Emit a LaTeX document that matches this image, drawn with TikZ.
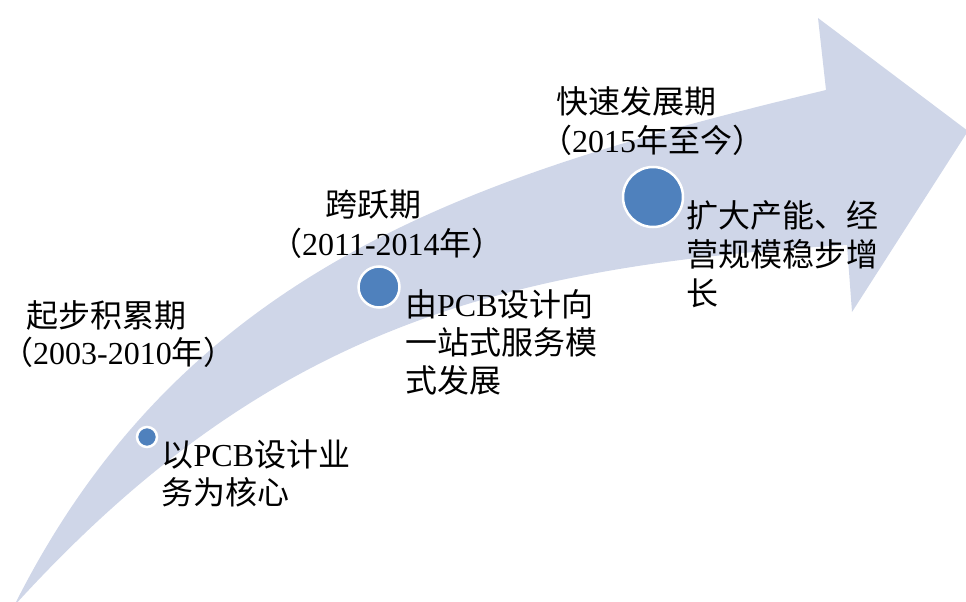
\documentclass[tikz,border=0pt]{standalone}
\usepackage{fontspec}
\setmainfont{Liberation Serif}
\newfontfamily\cjk{Noto Sans CJK SC}
\definecolor{bandcol}{RGB}{207,214,232}
\definecolor{dotcol}{RGB}{79,129,189}
\begin{document}
\begin{tikzpicture}[x=1pt,y=-1pt,
  txt/.style={inner sep=0pt, anchor=west, text=black, font=\fontsize{32}{38}\selectfont, align=left},
  dotnode/.style={circle, fill=dotcol, draw=white, line width=2.5pt, inner sep=0pt}]
\useasboundingbox (0,0) rectangle (966,602);
\begin{scope}
\clip (0,0) rectangle (966,602);
\fill[bandcol] (14,606) .. controls (184,266) and (476,174) .. (826,90)
  -- (818,18) -- (968,131) -- (852,312) -- (847,245)
  .. controls (497,266) and (264,331) .. (14,606) -- cycle;
\end{scope}
\node[dotnode, minimum size=20] (c1) at (147,437) {};
\node[dotnode, minimum size=41] (c2) at (379,287) {};
\node[dotnode, minimum size=60] (c3) at (653,197) {};
\node[txt] (t1) at (26,315) {\cjk 起步积累期};
\node[txt] (y1) at (1,352) {{\cjk （}2003-2010{\cjk 年）}};
\node[txt] (d1) at (161.5,473.5) {{\cjk 以}PCB{\cjk 设计业}\\{\cjk 务为核心}};
\node[txt] (t2) at (325,205) {\cjk 跨跃期};
\node[txt] (y2) at (270,243) {{\cjk （}2011-2014{\cjk 年）}};
\node[txt] (d2) at (405,342.5) {{\cjk 由}PCB{\cjk 设计向}\\{\cjk 一站式服务模}\\{\cjk 式发展}};
\node[txt] (t3) at (556,101) {\cjk 快速发展期};
\node[txt] (y3) at (540,140) {{\cjk （}2015{\cjk 年至今）}};
\node[txt, font=\fontsize{32}{39}\selectfont] (d3) at (686,254) {{\cjk 扩大产能、经}\\{\cjk 营规模稳步增}\\{\cjk 长}};
\end{tikzpicture}
\end{document}
